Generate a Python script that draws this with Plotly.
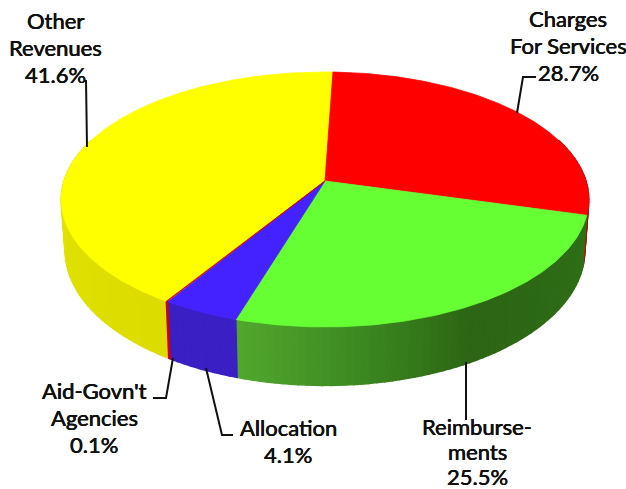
import numpy as np
import plotly.graph_objects as go

labels = ["Charges For Services", "Reimbursements", "Allocation", "Aid-Govn't Agencies", "Other Revenues"]
values = [28.7, 25.5, 4.1, 0.1, 41.6]
top_colors = ["#ff0000", "#66ff33", "#4422ff", "#dd0000", "#ffff00"]
side_stops = [
    [(0.0, "#b01010"), (1.0, "#b01010")],
    [(0.0, "#2f7018"), (0.5, "#2d6614"), (0.75, "#3d8a22"), (1.0, "#52a82e")],
    [(0.0, "#3a1fc4"), (1.0, "#3a1fc4")],
    [(0.0, "#cc0000"), (1.0, "#cc0000")],
    [(0.0, "#dcdc00"), (1.0, "#eeee00")],
]
text_items = [
    (["Charges", "For Services", "28.7%"], 568, 18, 27),
    (["Reimburse-", "ments", "25.5%"], 477, 426, 25),
    (["Allocation", "4.1%"], 288, 427, 27),
    (["Aid-Govn't", "Agencies", "0.1%"], 94, 390, 27),
    (["Other", "Revenues", "41.6%"], 55, 20, 27),
]
leaders = [
    [(536, 77), (523, 77), (517, 113)],
    [(466, 362), (466, 420)],
    [(206, 368), (222, 435), (233, 435)],
    [(173, 358), (166, 398), (153, 398)],
    [(86, 80), (87, 147)],
]

CX, CY, A, B, K, DEPTH, RIM, START = 325, 181, 261, 124.8, 0.145, 50, 0.985, 2.0


def hex_rgb(h):
    return np.array([int(h[i:i + 2], 16) for i in (1, 3, 5)], float)


def shade(stops, f):
    for (f0, c0), (f1, c1) in zip(stops, stops[1:]):
        if f <= f1:
            c = hex_rgb(c0) + (hex_rgb(c1) - hex_rgb(c0)) * (f - f0) / (f1 - f0)
            return "rgb(%d,%d,%d)" % tuple(c)
    return stops[-1][1]


def project(deg, xscale=1.0, drop=0.0):
    t = np.radians(deg)
    x, y = np.sin(t), np.cos(t)
    w = 1 + K * y
    return CX + xscale * A * x / w, CY - B * y / w + drop / w


fig = go.Figure()
total = sum(values)
edges = START + np.cumsum([0] + values) * 360 / total
order = np.argsort(values)[::-1]  # thin slices last, so they stay visible

# side wall
for i in order:
    a0, a1 = edges[i], edges[i + 1]
    lo, hi = max(a0, 70), min(a1, 290)
    if hi <= lo:
        continue
    n = max(1, int((hi - lo) / 1.5))
    steps = np.linspace(lo, hi, n + 1)
    for s0, s1 in zip(steps, steps[1:]):
        seg = np.linspace(s0, s1, 3)
        xt, yt = project(seg)
        xb, yb = project(seg[::-1], xscale=RIM, drop=DEPTH)
        col = shade(side_stops[i], ((s0 + s1) / 2 - a0) / (a1 - a0))
        fig.add_trace(go.Scatter(x=np.r_[xt, xb, xt[0]], y=np.r_[yt, yb, yt[0]], mode="lines",
                                 fill="toself", fillcolor=col, line=dict(color=col, width=1.4),
                                 hoverinfo="skip", showlegend=False))

# top face
for i in order:
    seg = np.linspace(edges[i], edges[i + 1], max(3, int(values[i] * 6)))
    xt, yt = project(seg)
    fig.add_trace(go.Scatter(x=np.r_[CX, xt, CX], y=np.r_[CY, yt, CY], mode="lines", name=labels[i],
                             fill="toself", fillcolor=top_colors[i],
                             line=dict(color=top_colors[i], width=0.8),
                             hoverinfo="name", showlegend=False))

for pts in leaders:
    fig.add_trace(go.Scatter(x=[p[0] for p in pts], y=[p[1] for p in pts], mode="lines",
                             line=dict(color="#111111", width=2), hoverinfo="skip", showlegend=False))

for lines, x, y0, dy in text_items:
    for k, line in enumerate(lines):
        fig.add_annotation(x=x, y=y0 + k * dy, text=line, showarrow=False, xanchor="center", yanchor="middle",
                           font=dict(family="Lato", size=22, color="#111111",
                                     shadow="0.3px 0 0 #111111, -0.3px 0 0 #111111"), align="center")

fig.update_layout(width=626, height=489, margin=dict(l=0, r=0, t=0, b=0), autosize=False,
                  paper_bgcolor="white", plot_bgcolor="white",
                  xaxis=dict(range=[0, 626], visible=False, fixedrange=True),
                  yaxis=dict(range=[489, 0], visible=False, fixedrange=True))
fig.write_html("out.html", config={"displayModeBar": False},
               post_script="document.body.style.margin='0';document.body.style.overflow='hidden';")
